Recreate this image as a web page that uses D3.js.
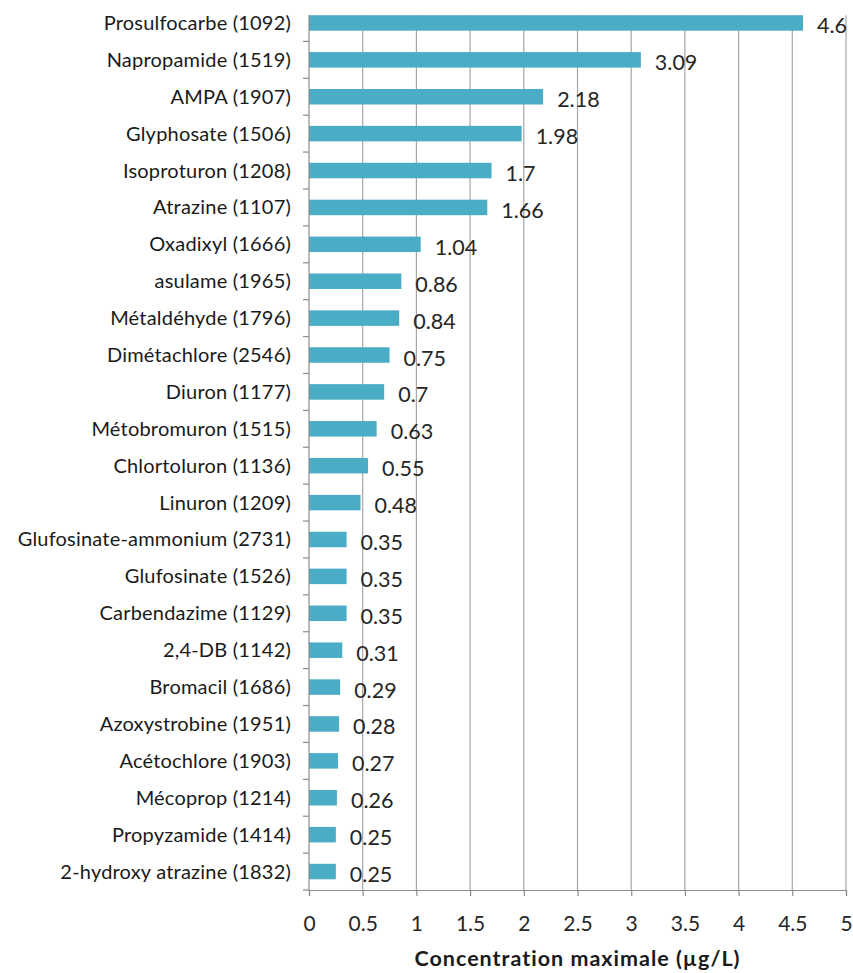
<!DOCTYPE html>
<html>
<head>
<meta charset="utf-8">
<script src="https://cdn.jsdelivr.net/npm/d3@7"></script>
<style>
  html, body { margin: 0; padding: 0; background: #fff; }
  svg { display: block; font-family: Lato, "Open Sans", sans-serif; }
</style>
</head>
<body>
<svg id="chart" width="853" height="973"></svg>
<script>
// Substances (with their code) and maximum measured concentration in µg/L
const substances = [
  "Prosulfocarbe (1092)", "Napropamide (1519)", "AMPA (1907)", "Glyphosate (1506)",
  "Isoproturon (1208)", "Atrazine (1107)", "Oxadixyl (1666)", "asulame (1965)",
  "Métaldéhyde (1796)", "Dimétachlore (2546)", "Diuron (1177)", "Métobromuron (1515)",
  "Chlortoluron (1136)", "Linuron (1209)", "Glufosinate-ammonium (2731)", "Glufosinate (1526)",
  "Carbendazime (1129)", "2,4-DB (1142)", "Bromacil (1686)", "Azoxystrobine (1951)",
  "Acétochlore (1903)", "Mécoprop (1214)", "Propyzamide (1414)", "2-hydroxy atrazine (1832)"
];
const concentrations = [
  4.6, 3.09, 2.18, 1.98, 1.7, 1.66, 1.04, 0.86, 0.84, 0.75, 0.7, 0.63,
  0.55, 0.48, 0.35, 0.35, 0.35, 0.31, 0.29, 0.28, 0.27, 0.26, 0.25, 0.25
];
const xTicks = [0, 0.5, 1, 1.5, 2, 2.5, 3, 3.5, 4, 4.5, 5];
const xTitle = "Concentration maximale (µg/L)";

const data = substances.map((name, i) => ({ name, value: concentrations[i] }));

const svg = d3.select("#chart");
const margin = { top: 4.5, left: 309, right: 7, bottom: 83 };
const W = 853, H = 973;
const plotW = W - margin.left - margin.right;
const plotH = H - margin.top - margin.bottom;
const axisColor = "#8c8c8c";
const textColor = "#1a1a1a";

const x = d3.scaleLinear().domain([0, 5]).range([0, plotW]);
const y = d3.scaleBand().domain(substances).range([0, plotH]).paddingInner(0.58).paddingOuter(0.29);

// the plot frame starts at the top edge of the first bar
const frameTop = y(substances[0]);

const g = svg.append("g").attr("transform", `translate(${margin.left},${margin.top})`);

// vertical gridlines
g.append("g")
  .selectAll("line")
  .data(xTicks.filter(t => t > 0))
  .join("line")
  .attr("x1", d => x(d)).attr("x2", d => x(d))
  .attr("y1", frameTop).attr("y2", plotH)
  .attr("stroke", "#a6a6a6").attr("stroke-width", 1.2);

// bars
g.append("g")
  .selectAll("rect")
  .data(data)
  .join("rect")
  .attr("x", 0)
  .attr("y", d => y(d.name))
  .attr("width", d => x(d.value))
  .attr("height", y.bandwidth())
  .attr("fill", "#4bacc6");

// value labels
g.append("g")
  .selectAll("text")
  .data(data)
  .join("text")
  .attr("x", d => x(d.value) + 14)
  .attr("y", d => y(d.name) + y.bandwidth() / 2 + 3)
  .attr("dy", "0.35em")
  .attr("font-size", 21.5)
  .attr("fill", "#262626")
  .text(d => d.value);

// x axis
const xAxis = d3.axisBottom(x).tickValues(xTicks).tickSize(6).tickPadding(20)
  .tickFormat(d3.format("~g"));
const xg = g.append("g").attr("transform", `translate(0,${plotH})`).call(xAxis);
xg.select(".domain").attr("stroke", axisColor).attr("stroke-width", 1.2);
xg.selectAll(".tick line").attr("stroke", axisColor).attr("stroke-width", 1.2);
xg.selectAll(".tick text").attr("font-size", 21).attr("fill", "#262626")
  .attr("font-family", "Lato, 'Open Sans', sans-serif");

// y axis: ticks at category boundaries (inside the frame)
const boundaries = d3.range(1, substances.length + 1).map(i => i * plotH / substances.length);
g.append("line").attr("x1", 0).attr("x2", 0).attr("y1", frameTop).attr("y2", plotH)
  .attr("stroke", axisColor).attr("stroke-width", 1.2);
g.append("g").selectAll("line").data(boundaries).join("line")
  .attr("x1", -6).attr("x2", 0).attr("y1", d => d).attr("y2", d => d)
  .attr("stroke", axisColor).attr("stroke-width", 1.2);

// category labels
g.append("g")
  .selectAll("text")
  .data(data)
  .join("text")
  .attr("x", -18)
  .attr("y", d => y(d.name) + y.bandwidth() / 2)
  .attr("dy", "0.35em")
  .attr("text-anchor", "end")
  .attr("font-size", 20)
  .attr("letter-spacing", 0.2)
  .attr("fill", textColor)
  .text(d => d.name);

// axis title
svg.append("text")
  .attr("x", margin.left + plotW / 2)
  .attr("y", 966)
  .attr("text-anchor", "middle")
  .attr("font-size", 21.5)
  .attr("letter-spacing", 1)
  .attr("font-weight", "bold")
  .attr("fill", textColor)
  .text(xTitle);
</script>
</body>
</html>
